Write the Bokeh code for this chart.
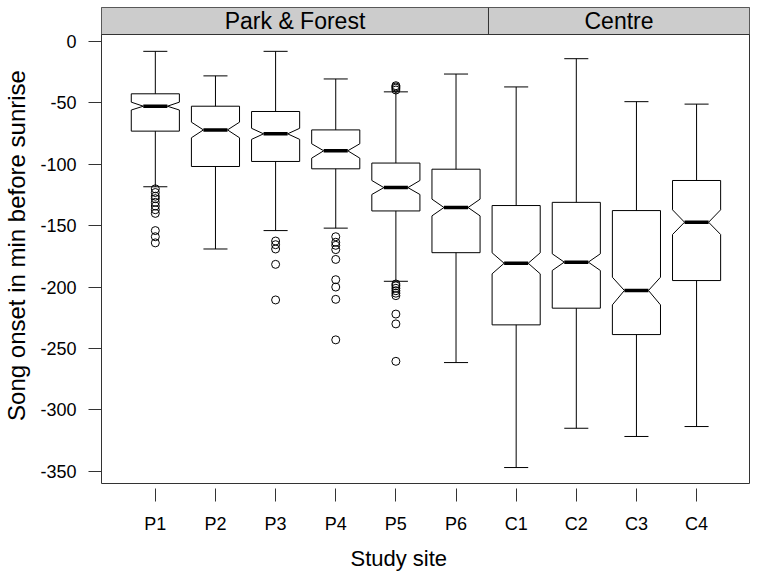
from bokeh.plotting import figure
from bokeh.models import FixedTicker, BoxAnnotation, Span, Range1d, Title
from bokeh.core.properties import value
from bokeh.embed import file_html
from bokeh.resources import INLINE

# ---- data (minutes before sunrise) ----
sites = ["P1", "P2", "P3", "P4", "P5", "P6", "C1", "C2", "C3", "C4"]
upper_whisker = [-8, -28, -8, -30.5, -41, -26.5, -37, -14, -49, -51]
q3 = [-42.6, -52.7, -57, -72, -99, -104, -133.6, -131, -137.7, -113.2]
notch_hi = [-49.4, -65.7, -70.7, -83.3, -113.2, -128.4, -172.1, -172.9, -192, -137.1]
median = [-52.7, -72, -75.2, -89, -119, -135.2, -180.6, -179.7, -202.8, -147.2]
notch_lo = [-55.8, -78.4, -79.7, -95, -124.6, -142, -189.2, -186.5, -214.5, -157.2]
q1 = [-73, -101.8, -97.7, -103.7, -138, -172, -230.8, -217.2, -238.7, -194.7]
lower_whisker = [-118.3, -169, -154, -152, -195.3, -261.5, -347, -315, -321.7, -313.6]

outliers_P1 = [-120, -123, -126, -128, -131, -134, -137, -140, -154, -159, -164]
outliers_P3 = [-162.5, -165.5, -169, -181.5, -210.5]
outliers_P4 = [-159, -163.5, -166, -169.5, -177.5, -194, -200, -210, -243]
outliers_P5 = [-36, -37, -38, -39.5, -197.5, -199, -201, -203, -205, -207,
               -222, -230, -260.5]

y_ticks = [0, -50, -100, -150, -200, -250, -300, -350]
y_tick_labels = ["0", "-50", "-100", "-150", "-200", "-250", "-300", "-350"]
groups = ["Park & Forest", "Centre"]

FONT = "Liberation Sans"
HW = 0.4      # box half width (x units)
NW = 0.2      # notch inset
CAP = 0.2     # whisker cap half width

x = list(range(1, len(sites) + 1))
XMIN, XMAX = 0.105, 10.88
YMIN, YTOP = -360, 27.7
panel_top = 5.7
div_x = 6.54

p = figure(width=750, height=578, output_backend="svg", toolbar_location=None,
           x_range=Range1d(XMIN, XMAX), y_range=Range1d(YMIN, YTOP),
           min_border_left=99, min_border_right=1, min_border_top=7,
           min_border_bottom=95)
p.background_fill_color = "white"
p.border_fill_color = "white"
p.outline_line_color = "#333333"
p.outline_line_width = 1
p.xgrid.visible = False
p.ygrid.visible = False

# strip
p.add_layout(BoxAnnotation(bottom=panel_top, fill_color="#cccccc", fill_alpha=1.0,
                           line_color=None, level="underlay"))
p.add_layout(Span(location=panel_top, dimension="width", line_color="#333333",
                  line_width=1))
p.segment(x0=[div_x], y0=[panel_top], x1=[div_x], y1=[YTOP], line_color="#333333",
          line_width=1)
p.text(x=[(XMIN + div_x) / 2, (div_x + XMAX) / 2], y=[(panel_top + YTOP) / 2] * 2,
       text=groups, text_align="center", text_baseline="middle",
       text_font=value(FONT), text_font_size="23px", text_color="black")

# notched boxes
xs, ys = [], []
for i, xi in enumerate(x):
    xs.append([xi - HW, xi + HW, xi + HW, xi + HW - NW, xi + HW, xi + HW,
               xi - HW, xi - HW, xi - HW + NW, xi - HW])
    ys.append([q3[i], q3[i], notch_hi[i], median[i], notch_lo[i], q1[i],
               q1[i], notch_lo[i], median[i], notch_hi[i]])
p.patches(xs, ys, fill_color="white", line_color="black", line_width=1)

# whiskers
p.segment(x0=x, y0=q3, x1=x, y1=upper_whisker, line_color="black", line_width=1)
p.segment(x0=x, y0=q1, x1=x, y1=lower_whisker, line_color="black", line_width=1)
p.segment(x0=[v - CAP for v in x], y0=upper_whisker, x1=[v + CAP for v in x],
          y1=upper_whisker, line_color="black", line_width=1)
p.segment(x0=[v - CAP for v in x], y0=lower_whisker, x1=[v + CAP for v in x],
          y1=lower_whisker, line_color="black", line_width=1)

# medians
p.segment(x0=[v - HW + NW for v in x], y0=median, x1=[v + HW - NW for v in x],
          y1=median, line_color="black", line_width=3.5)

# outliers
ox, oy = [], []
for site, vals in [("P1", outliers_P1), ("P3", outliers_P3), ("P4", outliers_P4),
                   ("P5", outliers_P5)]:
    xi = sites.index(site) + 1
    ox += [xi] * len(vals)
    oy += vals
p.scatter(ox, oy, marker="circle", size=8, fill_color=None, line_color="black",
          line_width=1)

# axes
p.xaxis.ticker = FixedTicker(ticks=x)
p.xaxis.major_label_overrides = {i + 1: s for i, s in enumerate(sites)}
p.xaxis.minor_tick_line_color = None
p.xaxis.axis_line_color = None
p.xaxis.major_tick_in = -5
p.xaxis.major_tick_out = 18
p.xaxis.major_tick_line_color = "#333333"
p.xaxis.major_label_standoff = 12
p.xaxis.major_label_text_font = FONT
p.xaxis.major_label_text_font_size = "18px"
p.xaxis.major_label_text_color = "black"

# x title, placed (as in the original) under the middle tick labels
p.add_layout(Title(text="Study site", align="left", offset=249, standoff=14,
                   text_font=FONT, text_font_size="22px", text_font_style="normal",
                   text_color="black"), "below")

p.yaxis.ticker = FixedTicker(ticks=y_ticks)
p.yaxis.major_label_overrides = dict(zip(y_ticks, y_tick_labels))
p.yaxis.minor_tick_line_color = None
p.yaxis.axis_line_color = None
p.yaxis.major_tick_in = 0
p.yaxis.major_tick_out = 13
p.yaxis.major_tick_line_color = "#333333"
p.yaxis.major_label_standoff = 12
p.yaxis.major_label_text_font = FONT
p.yaxis.major_label_text_font_size = "18px"
p.yaxis.major_label_text_color = "black"
p.yaxis.axis_label = "Song onset in min before sunrise"
p.yaxis.axis_label_text_font = FONT
p.yaxis.axis_label_text_font_style = "normal"
p.yaxis.axis_label_text_font_size = "24px"
p.yaxis.axis_label_text_color = "black"
p.yaxis.axis_label_standoff = 7

open("out.html", "w").write(file_html(p, INLINE))
